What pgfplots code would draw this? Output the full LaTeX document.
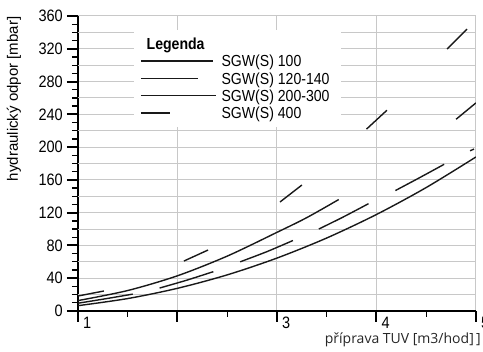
\documentclass[border=0pt]{standalone}
\usepackage{fontspec}
\setmainfont{Liberation Sans}
\newfontfamily\condfont{Liberation Sans}[FakeStretch=0.88]
\newfontfamily\xlabfont{Open Sans}
\usepackage{pgfplots}
\pgfplotsset{compat=1.18}
\definecolor{gridc}{RGB}{200,200,200}
\definecolor{curve}{RGB}{25,25,25}
\begin{document}
\begin{tikzpicture}
\path[use as bounding box] (-78bp,-41bp) rectangle (405bp,311bp);
\begin{axis}[
  scale only axis, width=398bp, height=295bp,
  xmin=1, xmax=5, ymin=0, ymax=360,
  axis x line*=bottom, axis y line*=left,
  axis line style={line width=2.5bp, black, -},
  xtick={1,2,3,4,5}, xticklabels={1,,3,4,5},
  minor x tick num=1,
  ytick={0,40,...,360},
  minor y tick num=3,
  extra y ticks={20,60,...,340}, extra y tick labels={},
  extra y tick style={grid=major, major tick length=0pt},
  grid=major, major grid style={gridc, line width=1bp},
  tick align=outside,
  major tick length=11bp, minor tick length=6bp,
  every major tick/.style={black, line width=2bp},
  every minor tick/.style={black, line width=1.3bp},
  /pgf/number format/assume math mode=true,
  unbounded coords=jump,
  xticklabel style={font=\condfont\fontsize{16.5bp}{16.5bp}\selectfont, anchor=north west, inner sep=0pt, xshift=5bp, yshift=5.5bp},
  yticklabel style={font=\condfont\fontsize{16.5bp}{16.5bp}\selectfont, anchor=east, inner sep=0pt, xshift=-4bp},
  xlabel={příprava TUV [m3/hod]\,]},
  xlabel style={font=\xlabfont\fontsize{14bp}{14bp}\selectfont, text=black!85, at={(axis description cs:1.0126,-0.1085)}, anchor=base east, inner sep=0pt},
  ylabel={hydraulický odpor [mbar]},
  ylabel style={font=\fontsize{15bp}{15bp}\selectfont, at={(axis description cs:-0.1608,0.719)}, anchor=center, inner sep=0pt},
  legend style={at={(axis description cs:0.1407,0.9525)}, anchor=north west, fill=white, draw=none,
    inner xsep=6bp, inner ysep=5bp, column sep=0pt, row sep=0pt,
    font=\condfont\fontsize{16bp}{16bp}\selectfont,
    nodes={text height=11.5bp, text depth=0pt, inner ysep=2.9bp, inner xsep=5bp}},
  legend cell align=left,
]
\addlegendimage{empty legend}
\addplot[curve, line width=1.4bp, smooth, legend image code/.code={\draw[curve, line width=1.4bp] (0bp,0bp) -- (72bp,0bp);}] coordinates {
(1,6.5) (1.5,15.2) (2,27.7) (2.5,44.1) (3,64.6) (3.5,89.1) (4,117.8) (4.5,150.7) (5,188)
};
\addplot[curve, line width=1.4bp, smooth, legend image code/.code={\draw[curve, line width=1.4bp] (0bp,0bp) -- (57bp,0bp);}] coordinates {
(1,9.5) (1.28,15) (1.55,20.6) (1.7,nan)
(1.82,28) (2.09,37.5) (2.36,48) (2.5,nan)
(2.63,60) (2.9,72.5) (3.16,86) (3.3,nan)
(3.42,100) (3.67,115) (3.92,131) (4.05,nan)
(4.19,147) (4.43,162.5) (4.68,179) (4.8,nan)
(4.94,195.5) (4.98,197.6)
};
\addplot[curve, line width=1.4bp, smooth, legend image code/.code={\draw[curve, line width=1.4bp] (0bp,0bp) -- (75bp,0bp);}] coordinates {
(1,12.7) (1.5,25) (2,43) (2.5,67) (3,96) (3.3,114) (3.62,136) (4.2,nan)
(4.80,234) (5,254)
};
\addplot[curve, line width=1.4bp, legend image code/.code={\draw[curve, line width=1.4bp] (0bp,0bp) -- (29bp,0bp);}] coordinates {
(1,18.3) (1.26,24.4) (1.6,nan)
(2.065,61) (2.307,74.4) (2.6,nan)
(3.03,133) (3.25,153.7) (3.6,nan)
(3.90,222) (4.105,245) (4.4,nan)
(4.71,319.7) (4.91,344)
};
\legend{{\hspace*{-83bp}\fontsize{16bp}{16bp}\selectfont\bfseries Legenda},SGW(S) 100,SGW(S) 120-140,SGW(S) 200-300,SGW(S) 400}
\end{axis}
\end{tikzpicture}
\end{document}
